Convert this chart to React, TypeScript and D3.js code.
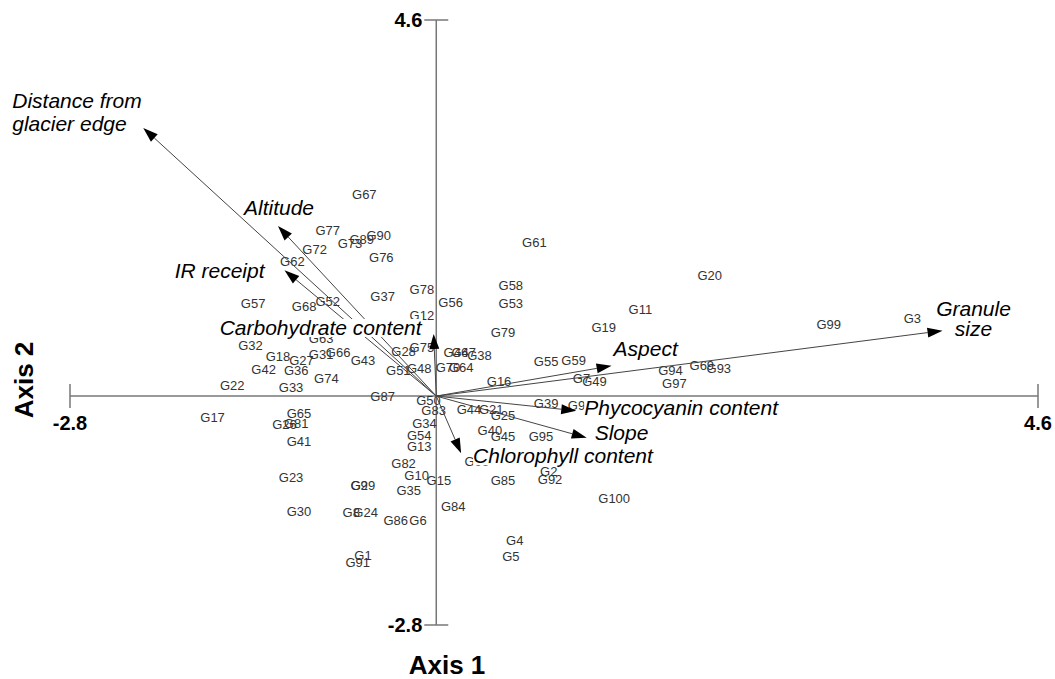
import * as d3 from "d3";
import React, {useEffect, useRef} from "react";

const width = 1055;
const height = 679;

// sample scores (labels only, no symbols)
const siteNames = [
  "G67", "G77", "G73", "G89", "G90", "G72", "G62", "G76", "G37", "G78",
  "G57", "G68", "G52", "G12", "G63", "G32", "G18", "G27", "G31", "G66",
  "G43", "G28", "G75", "G42", "G36", "G74", "G51", "G48", "G22", "G33",
  "G87", "G17", "G65", "G26", "G81", "G41", "G23", "G9", "G29", "G82",
  "G10", "G15", "G35", "G30", "G8", "G24", "G86", "G6", "G1", "G91",
  "G50", "G83", "G34", "G54", "G13", "G61", "G58", "G53", "G56", "G79",
  "G11", "G19", "G46", "G47", "G38", "G70", "G64", "G55", "G59", "G16",
  "G7", "G49", "G20", "G99", "G3", "G94", "G97", "G69", "G93", "G44",
  "G21", "G25", "G39", "G98", "G40", "G45", "G95", "G96", "G85", "G2",
  "G92", "G100", "G84", "G4", "G5"
];
const siteAxis1 = [
  -0.55, -0.83, -0.66, -0.57, -0.44, -0.93, -1.10, -0.42, -0.41, -0.11,
  -1.40, -1.01, -0.83, -0.11, -0.88, -1.42, -1.21, -1.03, -0.88, -0.75,
  -0.56, -0.25, -0.11, -1.32, -1.07, -0.84, -0.29, -0.13, -1.56, -1.11,
  -0.41, -1.71, -1.05, -1.16, -1.07, -1.05, -1.11, -0.59, -0.56, -0.25,
  -0.15, 0.02, -0.21, -1.05, -0.65, -0.54, -0.31, -0.14, -0.56, -0.60,
  -0.06, -0.02, -0.09, -0.13, -0.13, 0.75, 0.57, 0.57, 0.11, 0.51,
  1.56, 1.28, 0.15, 0.21, 0.33, 0.09, 0.19, 0.84, 1.05, 0.48,
  1.11, 1.21, 2.09, 3.00, 3.64, 1.79, 1.82, 2.03, 2.16, 0.25,
  0.42, 0.51, 0.84, 1.10, 0.41, 0.51, 0.80, 0.31, 0.51, 0.86,
  0.87, 1.36, 0.13, 0.60, 0.57
];
const siteAxis2 = [
  2.46, 2.02, 1.87, 1.91, 1.96, 1.79, 1.65, 1.70, 1.22, 1.30,
  1.13, 1.10, 1.16, 0.99, 0.71, 0.62, 0.49, 0.43, 0.51, 0.53,
  0.44, 0.55, 0.59, 0.32, 0.31, 0.22, 0.31, 0.34, 0.13, 0.10,
  0.00, -0.26, -0.21, -0.35, -0.33, -0.56, -1.00, -1.09, -1.09, -0.82,
  -0.97, -1.03, -1.16, -1.41, -1.43, -1.43, -1.52, -1.52, -1.95, -2.03,
  -0.06, -0.18, -0.33, -0.48, -0.62, 1.88, 1.35, 1.13, 1.15, 0.78,
  1.06, 0.84, 0.53, 0.53, 0.50, 0.35, 0.35, 0.42, 0.44, 0.18,
  0.22, 0.18, 1.48, 0.87, 0.95, 0.31, 0.15, 0.38, 0.34, -0.17,
  -0.17, -0.24, -0.09, -0.12, -0.42, -0.49, -0.49, -0.80, -1.03, -0.92,
  -1.02, -1.25, -1.35, -1.77, -1.96
];

// environmental vectors
const varNames = [
  ["Distance from", "glacier edge"],
  ["Altitude"],
  ["IR receipt"],
  ["Carbohydrate content"],
  ["Aspect"],
  ["Granule", "size"],
  ["Phycocyanin content"],
  ["Slope"],
  ["Chlorophyll content"]
];
const varAxis1 = [-2.24, -1.21, -1.16, -0.02, 1.34, 3.87, 1.07, 1.15, 0.19];
const varAxis2 = [3.28, 2.08, 1.54, 0.76, 0.37, 0.80, -0.18, -0.51, -0.70];

const axisMin = -2.8;
const axisMax = 4.6;
const tickLabels = ["-2.8", "4.6"];

// where each vector label sits relative to its arrow tip
const labelPlace = [
  {dx: -131, dy: -20, anchor: "start", gap: 23},
  {dx: -34, dy: -11, anchor: "start", gap: 0},
  {dx: -20, dy: 8, anchor: "end", gap: 0},
  {dx: -12, dy: 1, anchor: "end", gap: 0},
  {dx: 2, dy: -10, anchor: "start", gap: 0},
  {dx: 31, dy: -15, anchor: "middle", gap: 20},
  {dx: 8, dy: 4, anchor: "start", gap: 0},
  {dx: 8, dy: 2, anchor: "start", gap: 0},
  {dx: 12, dy: 10, anchor: "start", gap: 0}
];

const App = () => {
  const ref = useRef<SVGSVGElement>(null);

  useEffect(() => {
    document.body.style.margin = "0";
    const svg = d3.select(ref.current);
    svg.selectAll("*").remove();

    const x = d3.scaleLinear().domain([axisMin, axisMax]).range([70, 1038]);
    const y = d3.scaleLinear().domain([axisMin, axisMax]).range([625, 20]);
    const x0 = x(0), y0 = y(0);

    const axes = svg.append("g").attr("stroke", "#777").attr("stroke-width", 1.5);
    axes.append("line").attr("x1", x(axisMin)).attr("x2", x(axisMax)).attr("y1", y0).attr("y2", y0);
    axes.append("line").attr("x1", x0).attr("x2", x0).attr("y1", y(axisMin)).attr("y2", y(axisMax));
    [axisMin, axisMax].forEach(v => {
      axes.append("line").attr("x1", x(v)).attr("x2", x(v)).attr("y1", y0 - 12).attr("y2", y0 + 12);
      axes.append("line").attr("x1", x0 - 12).attr("x2", x0 + 12).attr("y1", y(v)).attr("y2", y(v));
    });

    const tickFont = "bold 20px 'Liberation Sans', Arial, sans-serif";
    const ticks = svg.append("g").style("font", tickFont).attr("fill", "#000");
    ticks.append("text").attr("x", x(axisMin)).attr("y", y0 + 34).attr("text-anchor", "middle").text(tickLabels[0]);
    ticks.append("text").attr("x", x(axisMax)).attr("y", y0 + 34).attr("text-anchor", "middle").text(tickLabels[1]);
    ticks.append("text").attr("x", x0 - 14).attr("y", y(axisMax) + 7).attr("text-anchor", "end").text(tickLabels[1]);
    ticks.append("text").attr("x", x0 - 14).attr("y", y(axisMin) + 7).attr("text-anchor", "end").text(tickLabels[0]);

    const titleFont = "bold 26px 'Liberation Sans', Arial, sans-serif";
    svg.append("text").style("font", titleFont).attr("x", 447).attr("y", 674)
      .attr("text-anchor", "middle").text("Axis 1");
    svg.append("text").style("font", titleFont).attr("transform", "translate(33,380) rotate(-90)")
      .attr("text-anchor", "middle").text("Axis 2");

    // sample labels
    svg.append("g")
      .style("font", "13px 'Liberation Sans', Arial, sans-serif")
      .attr("fill", "#333")
      .selectAll("text")
      .data(siteNames)
      .join("text")
      .attr("x", (d, i) => x(siteAxis1[i]))
      .attr("y", (d, i) => y(siteAxis2[i]))
      .attr("text-anchor", "middle")
      .attr("dominant-baseline", "central")
      .text(d => d);

    // vector shafts
    const vec = svg.append("g");
    const heads: [number, number][][] = [];
    varNames.forEach((name, i) => {
      const tx = x(varAxis1[i]), ty = y(varAxis2[i]);
      const ang = Math.atan2(ty - y0, tx - x0);
      const len = 15, hw = 5;
      const bx = tx - len * Math.cos(ang), by = ty - len * Math.sin(ang);
      vec.append("line").attr("x1", x0).attr("y1", y0).attr("x2", bx).attr("y2", by)
        .attr("stroke", "#444").attr("stroke-width", 1);
      heads.push([
        [tx, ty],
        [bx + hw * Math.sin(ang), by - hw * Math.cos(ang)],
        [bx - hw * Math.sin(ang), by + hw * Math.cos(ang)]
      ]);
    });

    // vector labels with white backing
    const lab = svg.append("g").style("font", "italic 21px 'Liberation Sans', Arial, sans-serif");
    varNames.forEach((lines, i) => {
      const p = labelPlace[i];
      const tx = x(varAxis1[i]) + p.dx, ty = y(varAxis2[i]) + p.dy;
      const g = lab.append("g");
      const t = g.append("text").attr("x", tx).attr("y", ty).attr("text-anchor", p.anchor).attr("fill", "#000");
      lines.forEach((s, k) => {
        t.append("tspan").attr("x", tx).attr("dy", k === 0 ? 0 : p.gap).text(s);
      });
      const bb = (t.node() as SVGTextElement).getBBox();
      g.insert("rect", "text").attr("x", bb.x).attr("y", bb.y + 3)
        .attr("width", bb.width).attr("height", bb.height - 5).attr("fill", "#fff");
    });

    // arrowheads on top
    svg.append("g")
      .selectAll("path")
      .data(heads)
      .join("path")
      .attr("d", d => d3.line()(d) + "Z")
      .attr("fill", "#000");
  }, []);

  return <svg ref={ref} width={width} height={height} style={{display: "block", background: "#fff"}}/>;
};

export default App;
